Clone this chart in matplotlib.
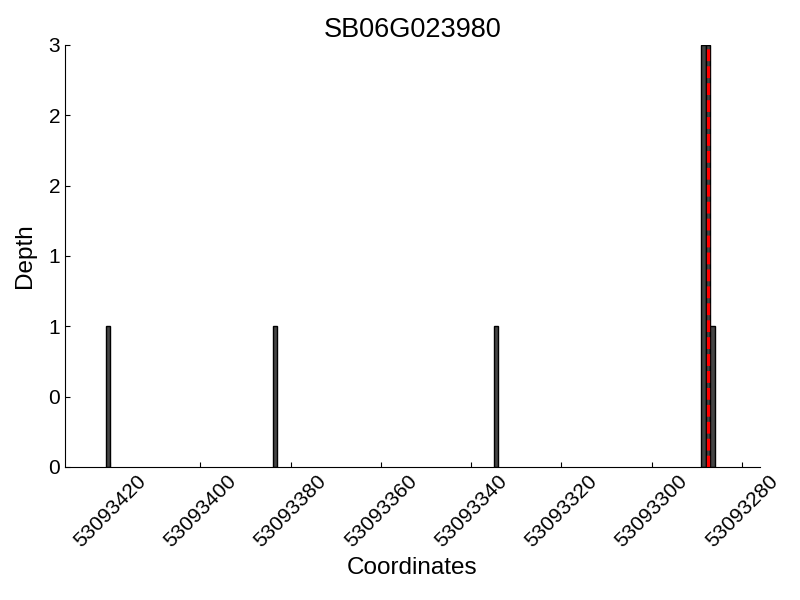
import matplotlib
matplotlib.use("Agg")
import matplotlib.pyplot as plt
from matplotlib.ticker import MultipleLocator, FormatStrFormatter

plt.rcParams['font.family'] = ['Liberation Sans', 'DejaVu Sans']

title = "SB06G023980"
positions = [53093420, 53093383, 53093334, 53093288, 53093287, 53093286]
depths = [1, 1, 1, 3, 3, 1]
marker_pos = 53093287.5
x_left, x_right = 53093430, 53093276

fig = plt.figure(figsize=(8, 6), dpi=100)
ax = fig.add_axes([0.08125, 0.2217, 0.86875, 0.7033])

ax.bar(positions, depths, width=1, align='edge', color='#454545',
       edgecolor='black', linewidth=1)
ax.axvline(marker_pos, color='red', linestyle='--', linewidth=2.3)

ax.set_xlim(x_left, x_right)
ax.set_ylim(0, 3)
ax.xaxis.set_major_locator(MultipleLocator(20))
ax.xaxis.set_major_formatter(FormatStrFormatter('%d'))
ax.yaxis.set_major_locator(MultipleLocator(0.5))
ax.yaxis.set_major_formatter(FormatStrFormatter('%d'))

for s in ['top', 'right']:
    ax.spines[s].set_visible(False)
ax.tick_params(direction='in', labelsize=15, top=False, right=False)
for lbl in ax.get_xticklabels():
    lbl.set_rotation(45)
    lbl.set_ha('center')

ax.set_title(title, fontsize=19.5)
ax.set_xlabel("Coordinates", fontsize=17.5)
ax.set_ylabel("Depth", fontsize=17.5, labelpad=9)

fig.savefig("out.png", dpi=100)
